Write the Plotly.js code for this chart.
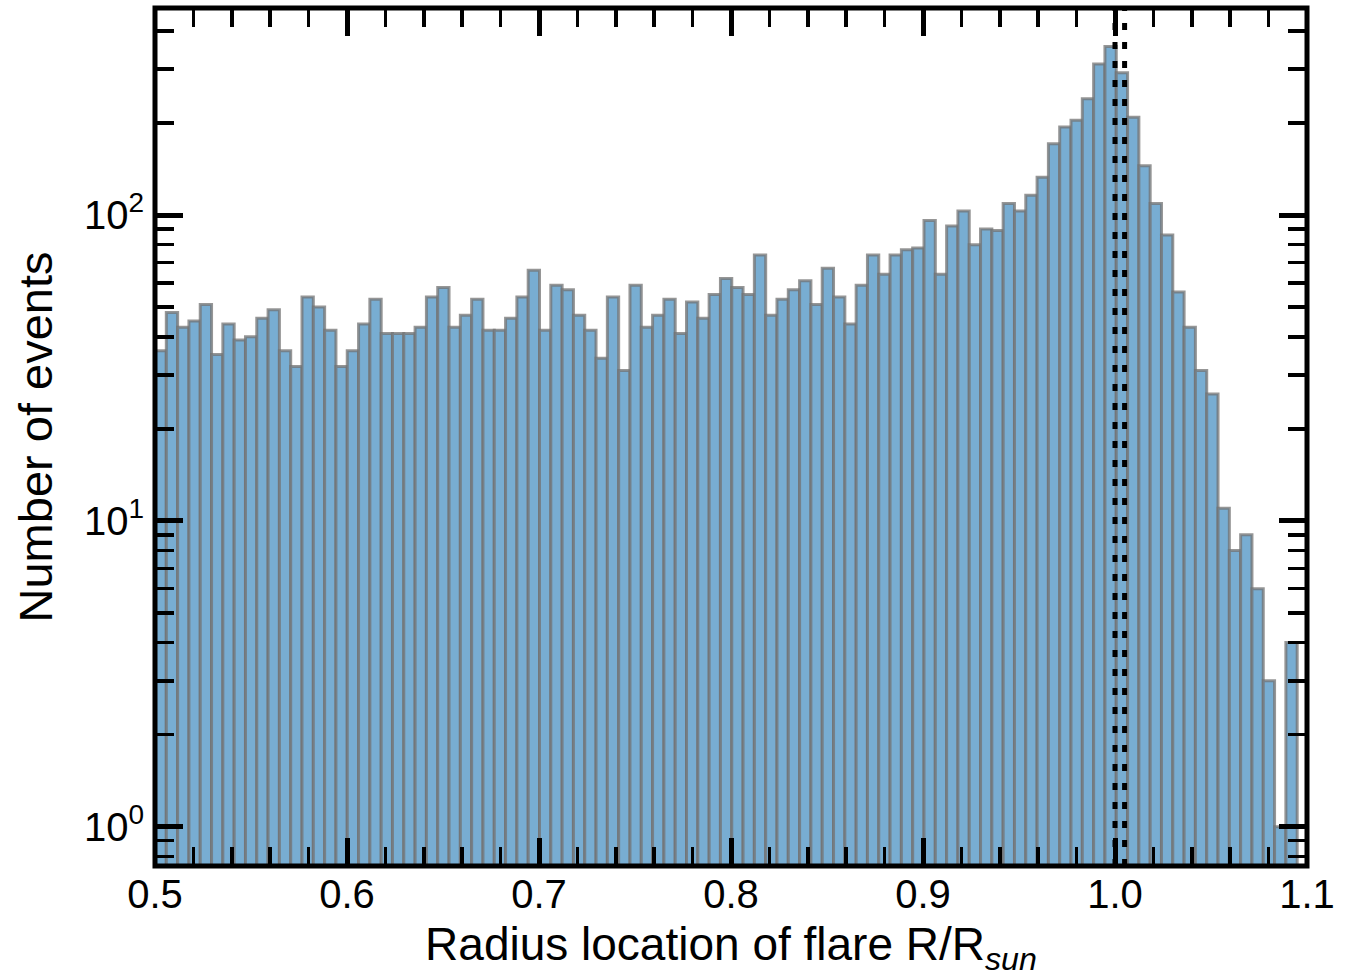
<!DOCTYPE html>
<html>
<head>
<meta charset="utf-8">
<script src="https://cdn.plot.ly/plotly-3.0.1.min.js"></script>
<style>
  html, body { margin: 0; padding: 0; background: #ffffff; }
  #chart { width: 1354px; height: 977px; }
</style>
</head>
<body>
<div id="chart"></div>
<script>
// Histogram of flare radius locations (R / R_sun), log-scaled counts
const binStart = 0.5;
const binWidth = 0.00589;
const counts = [
  36, 48, 43, 45, 51, 35, 44, 39, 40, 46,
  49, 36, 32, 54, 50, 42, 32, 36, 44, 53,
  41, 41, 41, 43, 54, 58, 43, 47, 53, 42,
  42, 46, 54, 66, 42, 59, 57, 47, 42, 34,
  54, 31, 59, 43, 47, 53, 41, 52, 46, 55,
  62, 58, 55, 74, 47, 53, 57, 61, 51, 67,
  54, 44, 59, 74, 64, 74, 77, 78, 96, 64,
  92, 103, 80, 90, 89, 109, 103, 116, 133, 171,
  194, 204, 240, 312, 356, 292, 209, 145, 109, 86,
  56, 43, 31, 26, 11, 8, 9, 6, 3, 1,
  4
];
const refLines = [1.0, 1.005];
const xTickVals = [0.5, 0.6, 0.7, 0.8, 0.9, 1.0, 1.1];
const xTickText = ['0.5', '0.6', '0.7', '0.8', '0.9', '1.0', '1.1'];
const yTickVals = [1, 10, 100];
const yTickText = ['10<sup>0</sup>', '10<sup>1</sup>', '10<sup>2</sup>'];

const centers = counts.map((_, i) => binStart + (i + 0.5) * binWidth);

const trace = {
  type: 'bar',
  x: centers,
  y: counts,
  width: binWidth,
  marker: {
    color: 'rgb(120,173,210)',
    line: { color: 'rgba(115,115,115,0.75)', width: 3 }
  },
  hoverinfo: 'x+y'
};

const FONT = '"Liberation Sans", Arial, Helvetica, sans-serif';

const shapes = [
  {
    type: 'rect', xref: 'paper', yref: 'paper', x0: 0, x1: 1, y0: 0, y1: 1,
    line: { color: '#000', width: 5 }, fillcolor: 'rgba(0,0,0,0)', layer: 'above'
  }
].concat(refLines.map(v => ({
  type: 'line', xref: 'x', yref: 'paper', x0: v, x1: v, y0: 0, y1: 1,
  line: { color: '#000', width: 5, dash: '7px,12px' }, layer: 'above'
})));

const layout = {
  width: 1354,
  height: 977,
  margin: { l: 154.5, r: 47.3, t: 8, b: 111, pad: 0 },
  paper_bgcolor: '#ffffff',
  plot_bgcolor: '#ffffff',
  showlegend: false,
  bargap: 0,
  font: { family: FONT, color: '#000' },
  xaxis: {
    range: [0.5, 1.1],
    tickmode: 'array',
    tickvals: xTickVals,
    ticktext: xTickText,
    ticks: 'inside',
    ticklen: 28,
    tickwidth: 5,
    tickcolor: '#000',
    mirror: 'allticks',
    showline: false,
    showgrid: false,
    zeroline: false,
    tickfont: { family: FONT, size: 40, color: '#000' },
    ticklabelstandoff: 1,
    minor: { ticks: 'inside', dtick: 0.02, tick0: 0.5, ticklen: 19, tickwidth: 3.5, tickcolor: '#000', showgrid: false },
    title: {
      text: 'Radius location of flare R/R<sub><i>sun</i></sub>',
      font: { family: FONT, size: 46, color: '#000' },
      standoff: 14
    }
  },
  yaxis: {
    type: 'log',
    range: [-0.1285, 2.677],
    tickmode: 'array',
    tickvals: yTickVals,
    ticktext: yTickText,
    ticks: 'inside',
    ticklen: 28,
    tickwidth: 5,
    tickcolor: '#000',
    mirror: 'allticks',
    showline: false,
    showgrid: false,
    zeroline: false,
    tickfont: { family: FONT, size: 40, color: '#000' },
    ticklabelstandoff: 10,
    minor: { ticks: 'inside', dtick: 'D1', ticklen: 19, tickwidth: 3.5, tickcolor: '#000', showgrid: false },
    title: {
      text: 'Number of events',
      font: { family: FONT, size: 47, color: '#000' },
      standoff: 16
    }
  },
  shapes: shapes
};

Plotly.newPlot('chart', [trace], layout, { displayModeBar: false, staticPlot: true });
</script>
</body>
</html>
